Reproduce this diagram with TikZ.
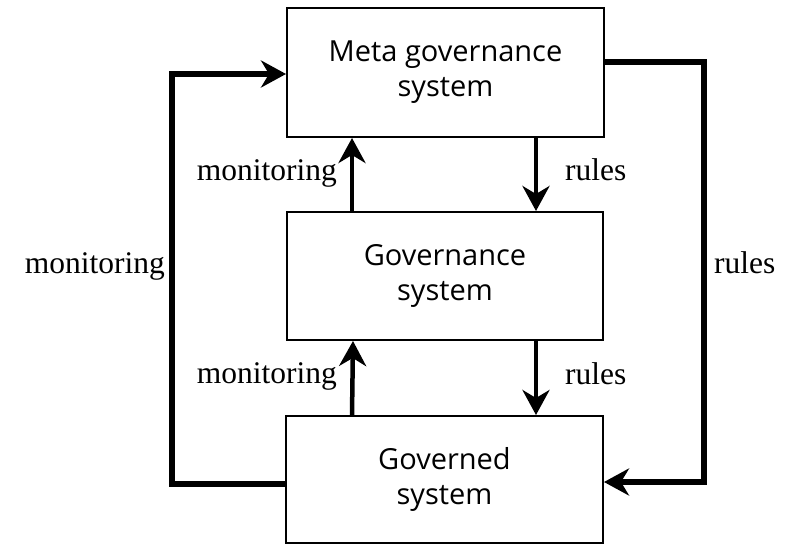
\documentclass[tikz,border=0pt]{standalone}
\usepackage{fontspec}
\setmainfont{Liberation Serif}
\newfontfamily\boxfont{Open Sans}
\usetikzlibrary{arrows.meta}
\begin{document}
\begin{tikzpicture}[x=1pt,y=-1pt,
  sysbox/.style={draw, line width=2pt, rectangle, inner sep=0pt, align=center,
    font=\boxfont\fontsize{29}{35}\selectfont},
  flow/.style={line width=4.5pt, line join=miter,
    -{Stealth[length=25pt,width=27pt,inset=8pt]}},
  loopflow/.style={flow, line width=5.5pt},
  lbl/.style={font=\fontsize{31.5}{36}\selectfont, inner sep=0pt}]
\useasboundingbox (0,0) rectangle (790,544);
\node[sysbox, minimum width=317pt, minimum height=129pt] (meta) at (445.5,72.5) {Meta governance\\system};
\node[sysbox, minimum width=316pt, minimum height=128pt] (gov) at (445,276) {Governance\\system};
\node[sysbox, minimum width=317pt, minimum height=127pt] (ged) at (444.5,479.5) {Governed\\system};
% inner arrows
\draw[flow] ([xshift=66pt]gov.north west) -- ([xshift=66pt]meta.south west);
\draw[flow] ([xshift=250pt]meta.south west) -- ([xshift=250pt]gov.north west);
\draw[flow] ([xshift=67pt]ged.north west) -- ([xshift=67pt]gov.south west);
\draw[flow] ([xshift=250pt]gov.south west) -- ([xshift=251pt]ged.north west);
% outer loops
\draw[loopflow] ([yshift=-4.5pt]ged.west) -- ++(-113,0) |- ([yshift=-1.5pt]meta.west);
\draw[loopflow] ([yshift=10.5pt]meta.east) -- ++(99,0) |- ([yshift=-2.5pt]ged.east);
% labels
\node[lbl, anchor=base east] (m1) at (337,180) {monitoring};
\node[lbl, anchor=base east] (m2) at (337,383) {monitoring};
\node[lbl, anchor=base east] (m3) at (165,273) {monitoring};
\node[lbl, anchor=base west] (r1) at (565,180) {rules};
\node[lbl, anchor=base west] (r2) at (565,384) {rules};
\node[lbl, anchor=base west] (r3) at (714,273) {rules};
\end{tikzpicture}
\end{document}
